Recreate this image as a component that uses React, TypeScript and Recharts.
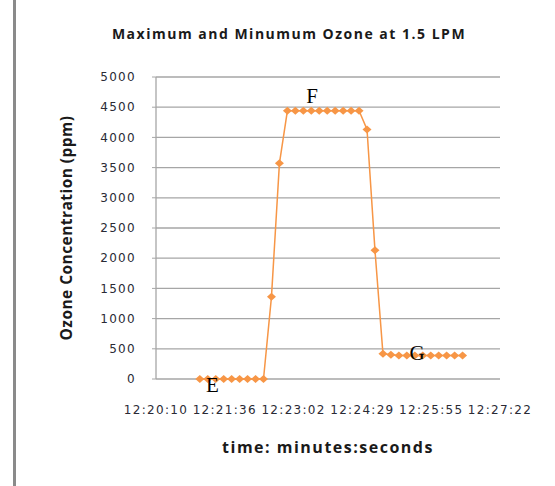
import { LineChart, Line, XAxis, YAxis, CartesianGrid, ReferenceDot } from 'recharts';

// seconds after 12:20:10
const times = [
  55, 65, 75, 85, 95, 105, 115, 125, 135, 145, 155, 165, 175, 185, 195, 205, 215,
  225, 235, 245, 255, 265, 275, 285, 295, 305, 315, 325, 335, 345, 355, 365, 375, 385,
];
const ozone = [
  0, 0, 0, 0, 0, 0, 0, 0, 0, 1360, 3570, 4440, 4440, 4440, 4440, 4440, 4440,
  4440, 4440, 4440, 4440, 4130, 2130, 420, 400, 390, 390, 390, 390, 390, 390, 390, 390, 390,
];
const tickSeconds = [0, 86.4, 172.8, 259.2, 345.6, 432];
const tickLabels = ['12:20:10', '12:21:36', '12:23:02', '12:24:29', '12:25:55', '12:27:22'];
const yTicks = [0, 500, 1000, 1500, 2000, 2500, 3000, 3500, 4000, 4500, 5000];

const marks = [
  { text: 'E', t: 71, v: -100 },
  { text: 'F', t: 196, v: 4690 },
  { text: 'G', t: 328, v: 430 },
];

const data = times.map((t, i) => ({ t, ozone: ozone[i] }));

const Diamond = (props: any) => {
  const { cx, cy } = props;
  if (cx == null || cy == null) return null;
  const r = 4;
  return (
    <path
      d={`M${cx},${cy - r}L${cx + r + 0.5},${cy}L${cx},${cy + r}L${cx - r - 0.5},${cy}Z`}
      fill="#f79646"
      stroke="none"
    />
  );
};

const boldFont = '"Open Sans", "DejaVu Sans", sans-serif';
const tickFont = { fill: '#2a2a35', fontSize: 12, fontFamily: '"DejaVu Sans", sans-serif', letterSpacing: 1.3 };

export default function App() {
  return (
    <div style={{ position: 'absolute', left: 0, top: 0, width: 555, height: 486, background: '#fff' }}>
      <div
        style={{
          position: 'absolute',
          left: 13,
          top: 0,
          width: 3,
          height: 486,
          background: '#8a8a8a',
        }}
      />
      <div
        style={{
          position: 'absolute',
          left: 0,
          width: 578,
          top: 24,
          textAlign: 'center',
          fontFamily: boldFont,
          fontWeight: 700,
          fontSize: 14,
          letterSpacing: 1.5,
          color: '#1a1a1a',
        }}
      >
        Maximum and Minumum Ozone at 1.5 LPM
      </div>
      <LineChart
        width={555}
        height={486}
        data={data}
        margin={{ top: 77, right: 55, bottom: 27, left: 0 }}
        style={{ position: 'absolute', left: 0, top: 0 }}
      >
        <CartesianGrid vertical={false} stroke="#a6a6a6" strokeWidth={1.3} />
        <XAxis
          dataKey="t"
          type="number"
          domain={[0, 432]}
          ticks={tickSeconds}
          tickFormatter={(v: number) => tickLabels[tickSeconds.indexOf(v)] ?? ''}
          axisLine={false}
          tickLine={false}
          tickMargin={20}
          height={80}
          interval={0}
          tick={tickFont}
          label={{
            content: ({ viewBox }: any) => (
              <text
                x={viewBox.x + viewBox.width / 2}
                y={viewBox.y + 74}
                textAnchor="middle"
                fontFamily={boldFont}
                fontWeight={700}
                fontSize={16}
                letterSpacing={1.5}
                fill="#1a1a1a"
              >
                time: minutes:seconds
              </text>
            ),
          }}
        />
        <YAxis
          type="number"
          domain={[0, 5000]}
          ticks={yTicks}
          interval={0}
          width={156}
          axisLine={{ stroke: '#a6a6a6', strokeWidth: 1.3 }}
          tickLine={{ stroke: '#a6a6a6' }}
          tickSize={4}
          tickMargin={16}
          tick={tickFont}
          label={{
            content: ({ viewBox }: any) => {
              const x = 66;
              const y = viewBox.y + viewBox.height / 2;
              return (
                <text
                  x={x}
                  y={y}
                  transform={`rotate(-90 ${x} ${y})`}
                  textAnchor="middle"
                  dominantBaseline="central"
                  fontFamily={boldFont}
                  fontWeight={700}
                  fontSize={15.5}
                  letterSpacing={0.45}
                  fill="#1a1a1a"
                >
                  Ozone Concentration (ppm)
                </text>
              );
            },
          }}
        />
        <Line
          type="linear"
          dataKey="ozone"
          stroke="#f79646"
          strokeWidth={1.5}
          dot={<Diamond />}
          activeDot={false}
          isAnimationActive={false}
        />
        {marks.map((m) => (
          <ReferenceDot
            key={m.text}
            x={m.t}
            y={m.v}
            r={0}
            ifOverflow="visible"
            label={{
              content: ({ viewBox }: any) => (
                <text
                  x={viewBox.x + (viewBox.width || 0) / 2}
                  y={viewBox.y + (viewBox.height || 0) / 2}
                  textAnchor="middle"
                  dominantBaseline="central"
                  fontFamily='"Liberation Serif", "DejaVu Serif", serif'
                  fontSize={21}
                  fill="#000"
                >
                  {m.text}
                </text>
              ),
            }}
          />
        ))}
      </LineChart>
    </div>
  );
}
